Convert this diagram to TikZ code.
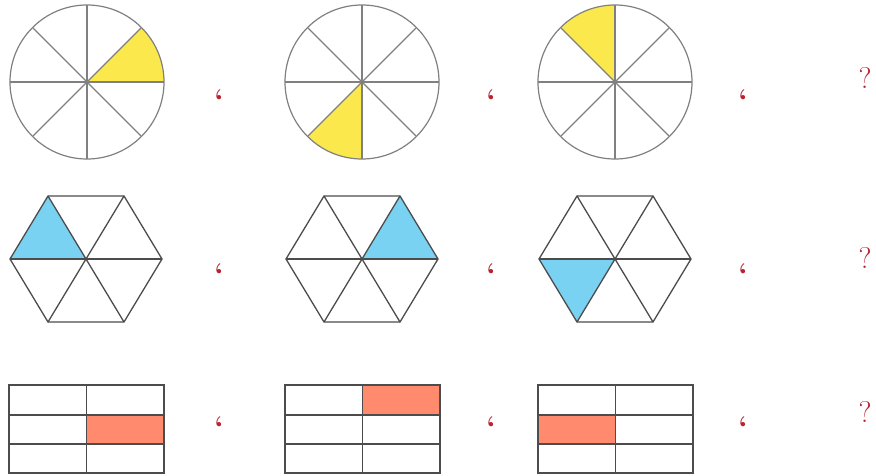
\documentclass[tikz,border=0pt]{standalone}
\usepackage{fontspec}
\begin{document}
\begin{tikzpicture}[x=1pt,y=-1pt,
  circline/.style={draw=black!50,line width=1.2pt},
  hexline/.style={draw=black!70,line width=1.3pt},
  recline/.style={draw=black!70,line width=1.4pt},
  commamark/.style={text=markred,font=\fontsize{30}{30}\selectfont\bfseries,inner sep=0pt},
  qmark/.style={text=markred,font=\fontsize{30}{30}\selectfont,inner sep=0pt}]
\definecolor{markred}{RGB}{186,34,48}
\definecolor{fillyellow}{RGB}{250,232,76}
\definecolor{fillblue}{RGB}{122,210,242}
\definecolor{fillsalmon}{RGB}{255,138,110}
\useasboundingbox[fill=white] (0,0) rectangle (876,476);
% ---------- Row 1: circles ----------
\foreach \cx/\a in {87/0, 362/225, 615/90}{
  \fill[fillyellow] (\cx,82) -- ++(-\a:77) arc[start angle=-\a, end angle=-\a-45, radius=77] -- cycle;
  \draw[circline] (\cx,82) circle[radius=77];
  \foreach \t in {0,45,90,135}{
    \draw[circline] (\cx,82) ++(\t:77) -- ++(\t+180:154);
  }
}
% ---------- Row 2: hexagons ----------
\fill[fillblue] (10,259) -- (48,196) -- (86,259) -- cycle;
\fill[fillblue] (362,259) -- (400,196) -- (438,259) -- cycle;
\fill[fillblue] (539,259) -- (615,259) -- (577,322) -- cycle;
\foreach \cx in {86,362,615}{
  \draw[hexline] (\cx-76,259) -- (\cx-38,196) -- (\cx+38,196) -- (\cx+76,259) -- (\cx+38,322) -- (\cx-38,322) -- cycle;
  \draw[hexline] (\cx-76,259) -- (\cx+76,259);
  \draw[hexline] (\cx-38,196) -- (\cx+38,322);
  \draw[hexline] (\cx+38,196) -- (\cx-38,322);
}
% ---------- Row 3: rectangles ----------
\fill[fillsalmon] (87,415) rectangle (164,444);
\fill[fillsalmon] (362,385) rectangle (439,415);
\fill[fillsalmon] (538,415) rectangle (615,444);
\foreach \lx in {9,285,538}{
  \draw[recline] (\lx,385) rectangle (\lx+155,473);
  \draw[recline] (\lx+77.5,385) -- (\lx+77.5,473);
  \draw[recline] (\lx,415) -- (\lx+155,415);
  \draw[recline] (\lx,444) -- (\lx+155,444);
}
% ---------- marks ----------
\node[commamark] (c11) at (219,100) {‘};
\node[commamark] (c12) at (491,100) {‘};
\node[commamark] (c13) at (743,100) {‘};
\node[commamark] (c21) at (219,274) {‘};
\node[commamark] (c22) at (491,274) {‘};
\node[commamark] (c23) at (743,274) {‘};
\node[commamark] (c31) at (219,427) {‘};
\node[commamark] (c32) at (491,427) {‘};
\node[commamark] (c33) at (743,427) {‘};
\node[qmark] (q1) at (865,78) {?};
\node[qmark] (q2) at (865,258) {?};
\node[qmark] (q3) at (865,412) {?};
\end{tikzpicture}
\end{document}
